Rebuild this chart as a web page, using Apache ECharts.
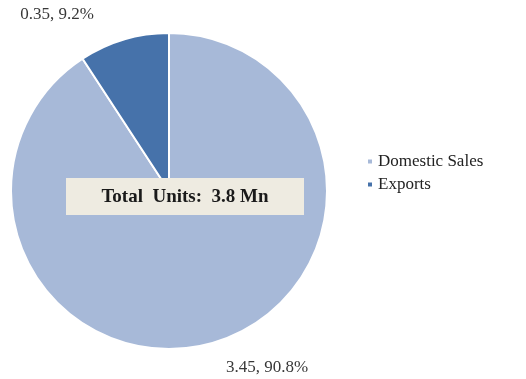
<!DOCTYPE html>
<html>
<head>
<meta charset="utf-8">
<script src="https://cdn.jsdelivr.net/npm/echarts@6/dist/echarts.min.js"></script>
<style>
  html, body { margin: 0; padding: 0; background: #fff; }
  #chart { width: 526px; height: 379px; }
</style>
</head>
<body>
<div id="chart"></div>
<script>
// Unit split (millions) and the share labels shown beside each slice
const categories = ['Domestic Sales', 'Exports'];
const units = [3.45, 0.35];
const shares = ['90.8%', '9.2%'];
const totalLabel = 'Total  Units:  3.8 Mn';

const colors = ['#a7b9d8', '#4672aa'];
const serif = '"Liberation Serif", "Times New Roman", serif';

const chart = echarts.init(document.getElementById('chart'));

const labelSpots = [
  { x: 267, y: 368 },  // domestic label below the pie
  { x: 57, y: 15 }     // exports label above the pie
];

chart.setOption({
  animation: false,
  color: colors,
  legend: {
    orient: 'vertical',
    left: 361,
    top: 148,
    icon: 'rect',
    itemWidth: 6,
    itemHeight: 6,
    itemGap: 6,
    textStyle: { fontFamily: serif, fontSize: 17, color: '#222' },
    data: categories
  },
  series: [{
    type: 'pie',
    center: [169, 191],
    radius: [0, 158],
    startAngle: 90,
    clockwise: true,
    itemStyle: { borderColor: '#fff', borderWidth: 2 },
    label: {
      show: true,
      position: 'outside',
      fontFamily: serif,
      fontSize: 17,
      color: '#383838',
      formatter: p => units[p.dataIndex].toFixed(2) + ', ' + shares[p.dataIndex]
    },
    labelLine: { show: false },
    labelLayout: p => ({
      x: labelSpots[p.dataIndex].x,
      y: labelSpots[p.dataIndex].y,
      align: 'center',
      verticalAlign: 'middle'
    }),
    emphasis: { disabled: true },
    data: categories.map((name, i) => ({ name, value: units[i] }))
  }],
  graphic: [
    {
      type: 'rect',
      z: 100,
      shape: { x: 66, y: 178, width: 238, height: 37 },
      style: { fill: '#eeebe1' }
    },
    {
      type: 'text',
      z: 101,
      x: 185, y: 197,
      style: {
        text: totalLabel,
        font: 'bold 19px ' + serif,
        fill: '#1a1a1a',
        align: 'center',
        verticalAlign: 'middle'
      }
    }
  ]
});
</script>
</body>
</html>
